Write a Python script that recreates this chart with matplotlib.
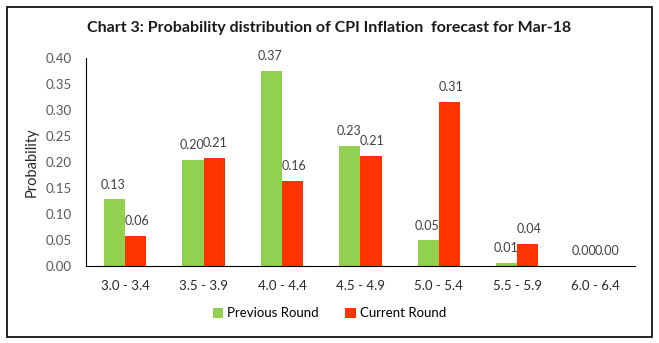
import matplotlib.pyplot as plt
import numpy as np
from matplotlib.patches import Rectangle

categorias = ['3.0 - 3.4', '3.5 - 3.9', '4.0 - 4.4', '4.5 - 4.9', '5.0 - 5.4', '5.5 - 5.9', '6.0 - 6.4']
rodada_anterior = [0.128, 0.204, 0.374, 0.231, 0.049, 0.006, 0.0]
rodada_atual = [0.058, 0.208, 0.164, 0.211, 0.315, 0.042, 0.0]
rotulos_anterior = ['0.13', '0.20', '0.37', '0.23', '0.05', '0.01', '0.00']
rotulos_atual = ['0.06', '0.21', '0.16', '0.21', '0.31', '0.04', '0.00']


def main():
    plt.rcParams['font.family'] = ['Lato', 'DejaVu Sans']

    fig = plt.figure(figsize=(6.59, 3.43), dpi=100)
    ax = fig.add_axes([0.1305, 0.2245, 0.833, 0.607])

    bar_width = 0.27
    index = np.arange(len(categorias))

    ax.bar(index - bar_width / 2, rodada_anterior, bar_width, color='#92D050', label='Previous Round')
    ax.bar(index + bar_width / 2, rodada_atual, bar_width, color='#FF3300', label='Current Round')

    # rotulos em cima de cada barra
    for i, value in enumerate(rodada_anterior):
        ax.text(i - bar_width / 2 - 0.015, value + 0.017, rotulos_anterior[i], ha='center', va='bottom',
                fontsize=9, color='#404040')
    for i, value in enumerate(rodada_atual):
        ax.text(i + bar_width / 2 + 0.015, value + 0.017, rotulos_atual[i], ha='center', va='bottom',
                fontsize=9, color='#404040')

    ax.set_xlim(-0.5, len(categorias) - 0.5)
    ax.set_ylim(0, 0.40)
    ax.set_yticks(np.arange(0, 0.401, 0.05))
    ax.set_yticklabels([f'{v:.2f}' for v in np.arange(0, 0.401, 0.05)])
    ax.set_xticks(index)
    ax.set_xticklabels(categorias)
    ax.tick_params(axis='y', length=0, labelsize=9.5, labelcolor='#595959', pad=10)
    ax.tick_params(axis='x', length=0, labelsize=9.5, labelcolor='#262626', pad=10)
    ax.set_ylabel('Probability', fontsize=10.5, color='#262626', labelpad=5)

    ax.spines['top'].set_visible(False)
    ax.spines['right'].set_visible(False)
    ax.spines['left'].set_color('black')
    ax.spines['bottom'].set_color('black')

    fig.text(0.5, 0.918, 'Chart 3: Probability distribution of CPI Inflation  forecast for Mar-18',
             ha='center', va='center', fontsize=11.5, fontweight='bold', color='#1a1a1a')

    fig.legend(loc='center', bbox_to_anchor=(0.5, 0.087), ncol=2, frameon=False,
               fontsize=9.5, handlelength=0.8, handleheight=0.8, handletextpad=0.3,
               columnspacing=2.0)

    # moldura em volta da figura
    fig.patches.append(Rectangle((7 / 659, 6 / 343), 645 / 659, 330 / 343, transform=fig.transFigure,
                                 fill=False, edgecolor='black', linewidth=1.2))

    fig.savefig('out.png', dpi=100)


if __name__ == "__main__":
    main()
